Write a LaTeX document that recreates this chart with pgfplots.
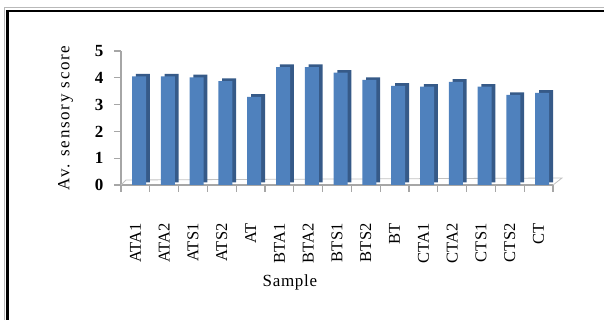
\documentclass[border=0pt]{standalone}
\usepackage{pgfplots}
\pgfplotsset{compat=1.18}
\usepackage{fontspec}
\setmainfont{Liberation Serif}
\newfontfamily\spacedy[LetterSpace=10]{Liberation Serif}
\newfontfamily\spacedx[LetterSpace=4]{Liberation Serif}

\definecolor{barfront}{HTML}{4F81BD}
\definecolor{barside}{HTML}{365A88}
\definecolor{axisgray}{HTML}{A6A6A6}

% average sensory score per sample
\pgfplotstableread{
x v
0 4.05
1 4.05
2 4.02
3 3.88
4 3.29
5 4.40
6 4.40
7 4.19
8 3.92
9 3.70
10 3.67
11 3.85
12 3.67
13 3.36
14 3.44
}\scores

\begin{document}
\begin{tikzpicture}[x=1pt,y=1pt]
\path[use as bounding box] (0,0) rectangle (604,320);
% chart frame
\draw[gray!55, line width=1pt] (4.5,0) -- (4.5,312.5) -- (604,312.5);
\draw[black, line width=2.6pt] (7.5,0) -- (7.5,309) -- (604,309);
\begin{axis}[
  at={(121pt,135pt)}, anchor=south west,
  scale only axis, width=432pt, height=134pt,
  clip=false,
  xmin=-0.5, xmax=14.5, ymin=0, ymax=5,
  axis x line*=bottom, axis y line*=left,
  axis line style={draw=axisgray, line width=1.6pt, -},
  tick align=outside,
  xtick={0,...,14},
  xticklabels={ATA1,ATA2,ATS1,ATS2,AT,BTA1,BTA2,BTS1,BTS2,BT,CTA1,CTA2,CTS1,CTS2,CT},
  x tick style={draw=none},
  xticklabel style={rotate=90, anchor=east, font=\fontsize{16.5}{16.5}\selectfont},
  xticklabel shift=28pt,
  extra x ticks={-0.5,0.5,...,14.5},
  extra x tick style={x tick style={draw=axisgray, line width=1.1pt},
    xticklabel={\mbox{}}},
  ytick={0,...,5},
  y tick style={draw=axisgray, line width=1.1pt},
  major tick length=7pt,
  /pgf/number format/assume math mode=true,
  yticklabel style={font=\fontsize{17}{17}\selectfont\bfseries},
  yticklabel shift=7pt,
  ylabel={\spacedy Av. sensory score},
  ylabel style={at={(axis description cs:-0.128,0.5)}, anchor=center,
    font=\fontsize{17}{17}\selectfont},
  xlabel={\spacedx Sample},
  xlabel style={at={(axis description cs:0.391,-0.73)}, anchor=center,
    font=\fontsize{17}{17}\selectfont},
]
% floor of the plot area
\draw[axisgray!70, line width=0.8pt]
  (axis cs:-0.5,0) -- ++(5pt,5pt) -- ([shift={(9pt,7pt)}]axis cs:14.5,0)
  -- (axis cs:14.5,0);
% side and top faces of the columns
\addplot[ybar, bar width=14pt, bar shift=3.6pt, fill=barside, draw=none,
  xshift=3.8pt, yshift=2.6pt] table[x=x, y=v] {\scores};
% front faces of the columns
\addplot[ybar, bar width=14pt, bar shift=3.6pt, fill=barfront, draw=none]
  table[x=x, y=v] {\scores};
\end{axis}
\end{tikzpicture}
\end{document}
